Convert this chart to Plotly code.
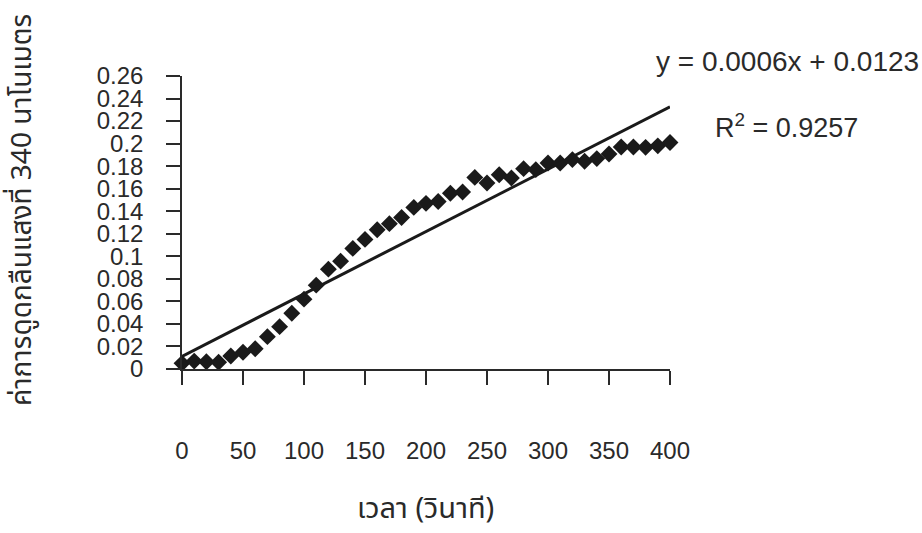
import numpy as np
import plotly.graph_objects as go

time_s = [0, 10, 20, 30, 40, 50, 60, 70, 80, 90, 100, 110, 120, 130, 140, 150,
          160, 170, 180, 190, 200, 210, 220, 230, 240, 250, 260, 270, 280, 290,
          300, 310, 320, 330, 340, 350, 360, 370, 380, 390, 400]
absorbance = [0.005, 0.007, 0.0065, 0.006, 0.0116, 0.0148, 0.018, 0.0287, 0.0376,
              0.0495, 0.062, 0.0744, 0.0886, 0.0957, 0.107, 0.115, 0.1236, 0.129,
              0.1345, 0.1434, 0.147, 0.1487, 0.156, 0.157, 0.170, 0.165, 0.1724,
              0.1695, 0.1778, 0.1769, 0.1828, 0.1828, 0.1858, 0.1843, 0.1867,
              0.1908, 0.197, 0.197, 0.1967, 0.198, 0.201]

x_ticks = [0, 50, 100, 150, 200, 250, 300, 350, 400]
y_ticks = [0, 0.02, 0.04, 0.06, 0.08, 0.1, 0.12, 0.14, 0.16, 0.18, 0.2, 0.22, 0.24, 0.26]
y_tick_labels = ["0", "0.02", "0.04", "0.06", "0.08", "0.1", "0.12", "0.14", "0.16",
                 "0.18", "0.2", "0.22", "0.24", "0.26"]

eq_text = "y = 0.0006x + 0.0123"
r2_text = "R<sup>2</sup> = 0.9257"
x_title = "เวลา (วินาที)"
y_title = "ค่าการดูดกลืนแสงที่ 340 นาโนเมตร"

# linear trendline (least squares fit of the data)
slope, intercept = np.polyfit(time_s, absorbance, 1)
trend_x = [min(time_s), max(time_s)]
trend_y = [intercept + slope * t for t in trend_x]

FONT = "Liberation Sans, Arial, sans-serif"
THAI = "Noto Sans Thai, Loma, Garuda, Tlwg Typo, sans-serif"
INK = "#2a2a2a"

fig = go.Figure()
fig.add_trace(go.Scatter(x=time_s, y=absorbance, mode="markers",
                         marker=dict(symbol="diamond", size=13, color="#1a1a1a",
                                     line=dict(width=0)),
                         cliponaxis=False, showlegend=False))
fig.add_trace(go.Scatter(x=trend_x, y=trend_y, mode="lines",
                         line=dict(color="#1a1a1a", width=3),
                         cliponaxis=False, showlegend=False))

L, R, T, B = 182, 252, 76, 164
W, H = 922, 533
pw = W - L - R
ph = H - T - B

fig.update_layout(
    width=W, height=H,
    margin=dict(l=L, r=R, t=T, b=B),
    paper_bgcolor="white", plot_bgcolor="white",
    font=dict(family=FONT, size=24, color=INK),
    xaxis=dict(range=[0, 400], tickvals=x_ticks, ticktext=[str(v) for v in x_ticks],
               showgrid=False, zeroline=False, showline=True, linecolor=INK,
               linewidth=1.5, ticks="outside", ticklen=14, tickwidth=1.5,
               tickcolor=INK, ticklabelstandoff=45,
               tickfont=dict(family=FONT, size=24, color=INK)),
    yaxis=dict(range=[0, 0.26], tickvals=y_ticks, ticktext=y_tick_labels,
               showgrid=False, zeroline=False, showline=True, linecolor=INK,
               linewidth=1.5, ticks="outside", ticklen=14, tickwidth=1.5,
               tickcolor=INK, ticklabelstandoff=18,
               tickfont=dict(family=FONT, size=24, color=INK)),
)

fig.add_annotation(text=eq_text, xref="paper", yref="paper",
                   x=(921 - L) / pw, y=(H - B - 62) / ph, xanchor="right", yanchor="middle",
                   showarrow=False, font=dict(family=FONT, size=28, color=INK))
fig.add_annotation(text=r2_text, xref="paper", yref="paper",
                   x=(713 - L) / pw, y=(H - B - 126) / ph, xanchor="left", yanchor="middle",
                   showarrow=False, font=dict(family=FONT, size=27, color=INK))
fig.add_annotation(text=x_title, xref="paper", yref="paper",
                   x=(425 - L) / pw, y=(H - B - 509) / ph, xanchor="center", yanchor="middle",
                   showarrow=False, font=dict(family=THAI, size=29, color=INK))
fig.add_annotation(text=y_title, xref="paper", yref="paper",
                   x=(22 - L) / pw, y=(H - B - 210) / ph, xanchor="center", yanchor="middle",
                   textangle=-90, showarrow=False,
                   font=dict(family=THAI, size=28, color=INK))

fig.write_html("out.html")
